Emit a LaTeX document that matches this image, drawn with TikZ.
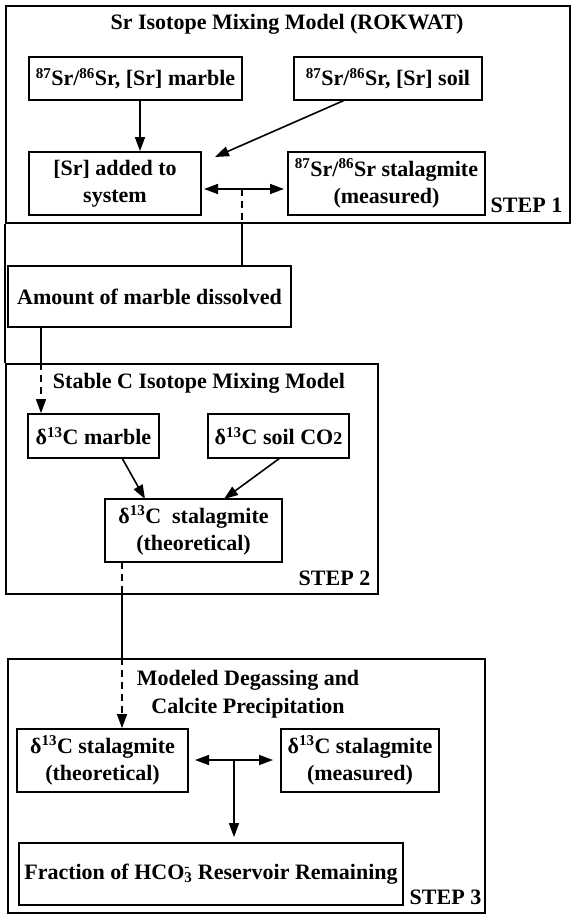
\documentclass[tikz,border=0pt]{standalone}
\usepackage{fontspec}
\setmainfont{Liberation Serif}
\usetikzlibrary{arrows.meta,calc}
\newcommand{\sups}[1]{\textsuperscript{\fontsize{15}{15}\selectfont #1}}
\newcommand{\hcothree}{HCO\rlap{\textsuperscript{\fontsize{15}{15}\selectfont -}}\textsubscript{\fontsize{15}{15}\selectfont 3}}
\begin{document}
\begin{tikzpicture}[x=1pt,y=-1pt,
  every node/.style={font=\fontsize{22}{27.5}\selectfont\bfseries, inner sep=0pt, align=center},
  box/.style={draw, line width=1.8pt},
  frame/.style={draw, line width=1.8pt},
  conn/.style={line width=1.6pt},
  arr/.style={conn, -{Triangle[length=14pt,width=10pt]}},
  dbl/.style={conn, {Triangle[length=14pt,width=10pt]}-{Triangle[length=14pt,width=10pt]}},
  dashline/.style={conn, dash pattern=on 7pt off 5pt},
  dasharr/.style={arr, dash pattern=on 7pt off 5pt}
]
\useasboundingbox (0,0) rectangle (571,917);
\fill[white] (0,0) rectangle (571,917);

% STEP 1
\node[frame, minimum width=564pt, minimum height=217pt] (frame1) at (288,114.5) {};
\node (title1) at (287,24) {Sr Isotope Mixing Model (ROKWAT)};
\node[box, minimum width=213pt, minimum height=43pt] (srmarble) at (135.5,78.5) {\sups{87}Sr/\sups{86}Sr, [Sr] marble};
\node[box, minimum width=188pt, minimum height=43pt] (srsoil) at (388,78.5) {\sups{87}Sr/\sups{86}Sr, [Sr] soil};
\node[box, minimum width=172pt, minimum height=63pt] (sradded) at (115,183.5) {[Sr] added to\\system};
\node[box, minimum width=197pt, minimum height=63pt] (srmeas) at (386.5,183.5) {\sups{87}Sr/\sups{86}Sr stalagmite\\(measured)};
\node (step1) at (526.5,205) {STEP 1};

% Amount
\node[box, minimum width=283pt, minimum height=61pt] (amount) at (149.5,296.5) {Amount of marble dissolved};

% STEP 2
\node[frame, minimum width=372pt, minimum height=230pt] (frame2) at (192,479) {};
\node (title2) at (199,383) {Stable C Isotope Mixing Model};
\node[box, minimum width=131pt, minimum height=44pt] (cmarble) at (93.5,436) {δ\sups{13}C marble};
\node[box, minimum width=141pt, minimum height=44pt] (csoil) at (278.5,436) {δ\sups{13}C soil CO{\fontsize{18}{18}\selectfont 2}};
\node[box, minimum width=177pt, minimum height=63pt] (ctheo) at (193.5,530.5) {δ\sups{13}C\ \ stalagmite\\(theoretical)};
\node (step2) at (334.5,578) {STEP 2};

% STEP 3
\node[frame, minimum width=477pt, minimum height=254pt] (frame3) at (246.5,786) {};
\node (title3) at (248,694) {Modeled Degassing and\\Calcite Precipitation};
\node[box, minimum width=171pt, minimum height=63pt] (dtheo) at (102.5,760.5) {δ\sups{13}C stalagmite\\(theoretical)};
\node[box, minimum width=158pt, minimum height=63pt] (dmeas) at (360,760.5) {δ\sups{13}C stalagmite\\(measured)};
\node[box, minimum width=384pt, minimum height=62pt] (fraction) at (211,874) {Fraction of \hcothree\ Reservoir Remaining};
\node (step3) at (445.5,897) {STEP 3};

% coordinates for connectors
\coordinate (soilout) at (345,100);
\coordinate (addedin) at (215,157);
\coordinate (d1L) at (204,189);
\coordinate (d1R) at (284,189);
\coordinate (d1M) at (242,189);
\coordinate (amtout) at (41,327);
\coordinate (cmout) at (122,458);
\coordinate (ctin1) at (145,499);
\coordinate (csout) at (280,458);
\coordinate (ctin2) at (224,499);
\coordinate (ctout) at (122,562);
\coordinate (d2L) at (195,760);
\coordinate (d2R) at (273,760);
\coordinate (d2M) at (234,760);

% connectors
\draw[arr] (srmarble.south -| 140,0) -- (sradded.north -| 140,0);
\draw[arr] (soilout) -- (addedin);
\draw[dbl] (d1L) -- (d1R);
\draw[dashline] (d1M) -- (d1M |- frame1.south);
\draw[conn] (d1M |- frame1.south) -- (d1M |- amount.north);
\draw[line width=1.8pt] (frame1.south west) -- (frame2.north west);

\draw[conn] (amtout) -- (amtout |- frame2.north);
\draw[dasharr] (amtout |- frame2.north) -- (amtout |- cmarble.north);

\draw[arr] (cmout) -- (ctin1);
\draw[arr] (csout) -- (ctin2);

\draw[dashline] (ctout) -- (ctout |- frame2.south);
\draw[conn] (ctout |- frame2.south) -- (ctout |- frame3.north);
\draw[dasharr] (ctout |- frame3.north) -- (ctout |- dtheo.north);

\draw[dbl] (d2L) -- (d2R);
\draw[arr] (d2M) -- ([yshift=5pt]d2M |- fraction.north);
\end{tikzpicture}
\end{document}
